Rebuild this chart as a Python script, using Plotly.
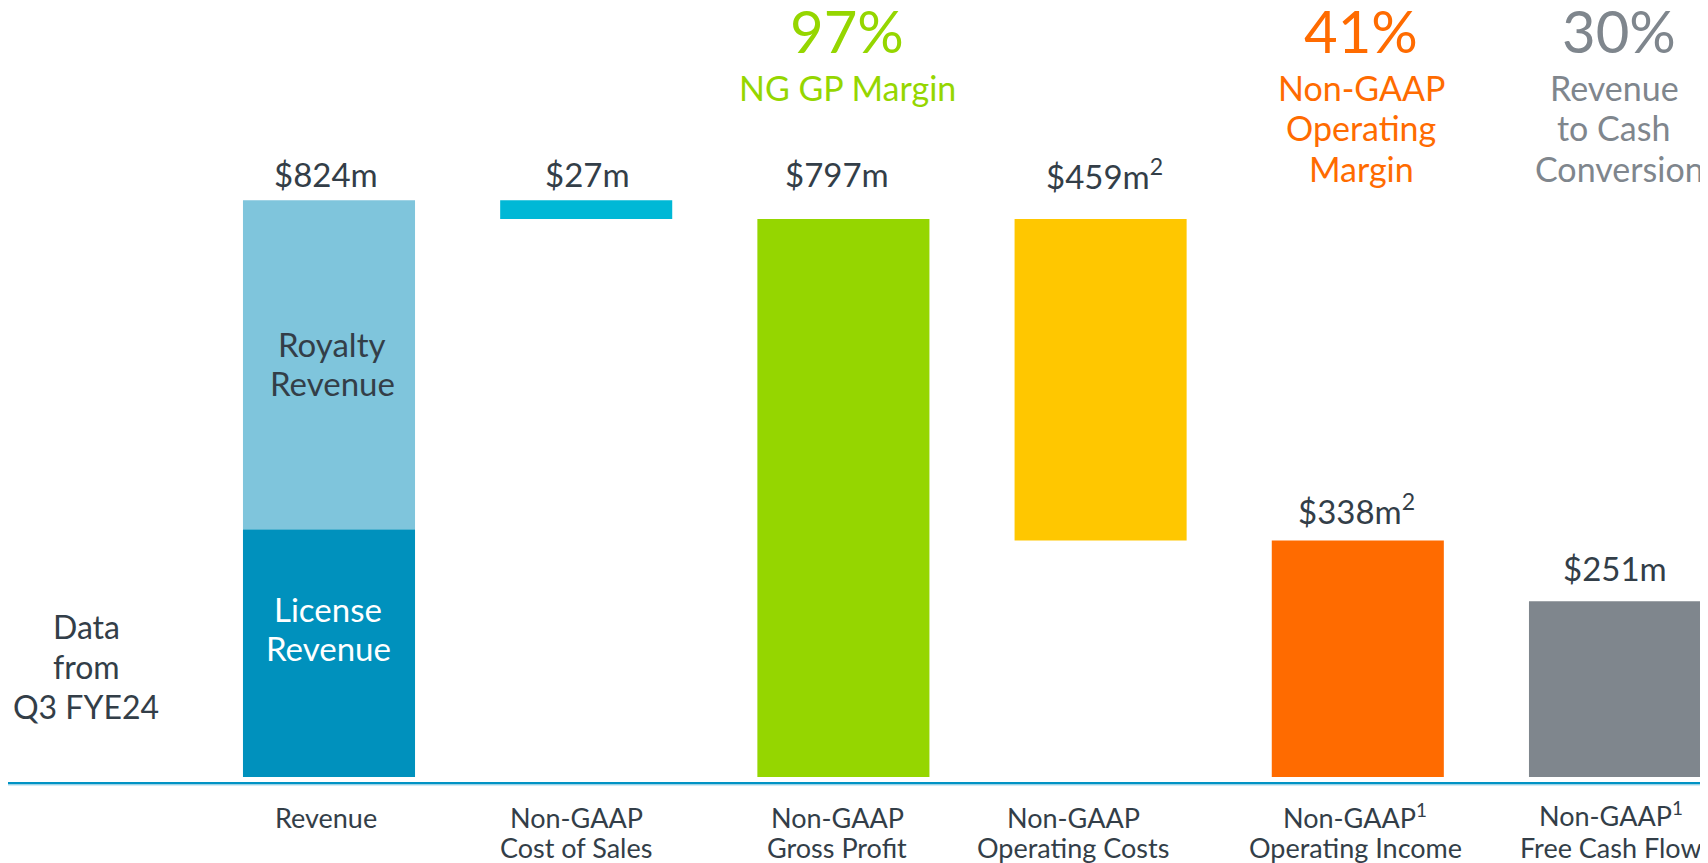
import plotly.graph_objects as go

# ---------------- data ----------------
categories = ["Revenue", "Non-GAAP Cost of Sales", "Non-GAAP Gross Profit",
              "Non-GAAP Operating Costs", "Non-GAAP Operating Income",
              "Non-GAAP Free Cash Flow"]
license_revenue = 354
royalty_revenue = 470
revenue = 824
cost_of_sales = 27
gross_profit = 797
operating_costs = 459
operating_income = 338
free_cash_flow = 251

value_labels = ["$824m", "$27m", "$797m", "$459m<sup>2</sup>", "$338m<sup>2</sup>", "$251m"]
cat_line1 = ["Revenue", "Non-GAAP", "Non-GAAP", "Non-GAAP", "Non-GAAP<sup>1</sup>", "Non-GAAP<sup>1</sup>"]
cat_line2 = ["", "Cost of Sales", "Gross Profit", "Operating Costs", "Operating Income", "Free Cash Flow"]
margin_values = ["97%", "41%", "30%"]
margin_texts = [["NG GP Margin"], ["Non-GAAP", "Operating", "Margin"], ["Revenue", "to Cash", "Conversion"]]

# ---------------- styling ----------------
OFF = 8                      # page body margin
W, H = 1700, 855             # figure size so it fills the 1708x863 window
FONT = "Lato"
DARK = "#333E48"
GREEN = "#95D600"
ORANGE = "#FF6B00"
GRAY = "#7F868D"
bar_colors = ["#0091BD", "#00B8D6", "#95D600", "#FFC700", "#FF6B00", "#7F868D"]
ROYALTY_COLOR = "#7FC5DC"

x_pos = list(range(len(categories)))
main_vals = [license_revenue, cost_of_sales, gross_profit, operating_costs, operating_income, free_cash_flow]
main_base = [0, gross_profit, 0, operating_income, 0, 0]

fig = go.Figure()
fig.add_trace(go.Bar(x=x_pos, y=main_vals, base=main_base, width=0.669,
                     marker=dict(color=bar_colors, line=dict(width=0)),
                     hovertext=categories, showlegend=False))
fig.add_trace(go.Bar(x=[0], y=[royalty_revenue], base=[license_revenue], width=0.669,
                     marker=dict(color=ROYALTY_COLOR, line=dict(width=0)),
                     showlegend=False))

def px(x):
    return (x - OFF) / W

def py(y):
    return 1 - (y - OFF) / H

annotations = []

def add_text(text, x, y, size, color):
    annotations.append(dict(text=text, x=px(x), y=py(y), xref="paper", yref="paper",
                            xanchor="center", yanchor="middle", showarrow=False,
                            font=dict(family=FONT, size=size, color=color)))

def add_lines(lines, xs, y0, spacing, size, color):
    if not isinstance(xs, (list, tuple)):
        xs = [xs] * len(lines)
    for i, (t, x) in enumerate(zip(lines, xs)):
        if t:
            add_text(t, x, y0 + i * spacing, size, color)

# margin headers
head_x = [847, 1361, 1619]
head_line_x = [847, 1361, [1614, 1613, 1619]]
head_colors = [GREEN, ORANGE, GRAY]
for v, lines, hx, lx, c in zip(margin_values, margin_texts, head_x, head_line_x, head_colors):
    add_text(v, hx, 30, 58, c)
    add_lines(lines, lx, 87, 40.5, 34, c)

# value labels
val_xy = [(326, 174), (587, 174), (837, 174), (1104, 174), (1356, 509), (1615, 568)]
for t, (vx, vy) in zip(value_labels, val_xy):
    add_text(t, vx, vy, 33, DARK)

# inside-bar labels
add_lines(["Royalty", "Revenue"], 332, 344, 39.5, 33, DARK)
add_lines(["License", "Revenue"], 328, 609, 39, 33, "white")
add_lines(["Data", "from", "Q3 FYE24"], 86, 626, 40, 32, DARK)

# category labels
cat_x = [326, 576, 837, 1073, 1355, 1611]
cat_y = [817, 817, 817, 817, 816, 814]
for l1, l2, cx, cy in zip(cat_line1, cat_line2, cat_x, cat_y):
    add_lines([l1, l2], cx, cy, 847 - cy, 27, DARK)

# axis base line
shapes = [
    dict(type="line", xref="paper", yref="paper", x0=0, x1=1, y0=py(783), y1=py(783),
         line=dict(color="#0093C4", width=2)),
    dict(type="line", xref="paper", yref="paper", x0=0, x1=1, y0=py(784.8), y1=py(784.8),
         line=dict(color="#6FC0DE", width=1)),
]

# axis ranges: category spacing 257.2 px, first centre at page x 329; 0.7 px per $m, zero at page y 777
x_min = -(329 - OFF) / 257.2
x_max = x_min + W / 257.2
y_min = -(H - (777 - OFF)) / 0.7
y_max = y_min + H / 0.7

fig.update_layout(
    width=W, height=H,
    margin=dict(l=0, r=0, t=0, b=0),
    paper_bgcolor="white", plot_bgcolor="white",
    barmode="overlay",
    xaxis=dict(range=[x_min, x_max], visible=False, fixedrange=True),
    yaxis=dict(range=[y_min, y_max], visible=False, fixedrange=True),
    annotations=annotations,
    shapes=shapes,
)

fig.write_html("out.html")
